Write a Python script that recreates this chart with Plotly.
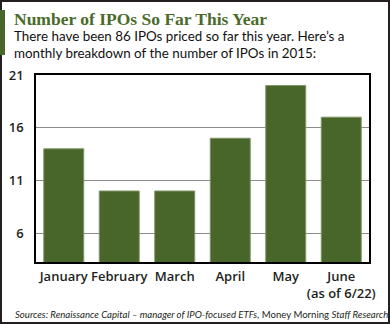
import plotly.graph_objects as go

months = ["January", "February", "March", "April", "May", "June"]
month_labels = ["January", "February", "March", "April", "May", "June<br>(as of 6/22)"]
ipos = [14, 10, 10, 15, 20, 17]
y_ticks = [6, 11, 16, 21]

W, H = 390, 324
L, R, T, B = 36, 21, 75, 62
PW, PH = W - L - R, H - T - B
GREEN = "#486629"

def px(x):
    return (x - L) / PW

def py(y):
    return (H - B - y) / PH

fig = go.Figure(go.Bar(
    x=months, y=ipos, marker=dict(color=GREEN, line=dict(color="#7d9463", width=1)),
    width=0.72,
))

fig.update_layout(
    width=W, height=H, margin=dict(l=L, r=R, t=T, b=B, autoexpand=False),
    paper_bgcolor="white", plot_bgcolor="white", showlegend=False,
    font=dict(family="Open Sans", color="#231f20"),
)
fig.update_xaxes(
    tickmode="array", tickvals=months, ticktext=month_labels, tickangle=0,
    tickfont=dict(family="Open Sans", size=13, weight=600, color="#231f20"),
    showline=True, linecolor="black", linewidth=1.5, mirror=True,
    showgrid=False, ticks="", ticklabelstandoff=2, automargin=False,
)
fig.update_yaxes(
    range=[3.27, 21], tickmode="array", tickvals=y_ticks,
    tickfont=dict(family="Open Sans", size=13, weight=600, color="#231f20"),
    showline=True, linecolor="black", linewidth=1.5, mirror=True,
    showgrid=True, gridcolor="#8c8c8c", gridwidth=1.2, zeroline=False,
    ticks="", ticklabelstandoff=8, automargin=False,
)

fig.add_annotation(xref="paper", yref="paper", x=px(12), y=py(19), xanchor="left", yanchor="middle",
                   text="<b>Number of IPOs So Far This Year</b>", showarrow=False,
                   font=dict(family="Liberation Serif", size=17.5, color="#4a6b2a"))
fig.add_annotation(xref="paper", yref="paper", x=px(12), y=py(36), xanchor="left", yanchor="middle",
                   text="There have been 86 IPOs priced so far this year. Here\u2019s a",
                   showarrow=False, font=dict(family="Lato", size=13.4, color="#111111"))
fig.add_annotation(xref="paper", yref="paper", x=px(12), y=py(53), xanchor="left", yanchor="middle",
                   text="monthly breakdown of the number of IPOs in 2015:",
                   showarrow=False, font=dict(family="Lato", size=13.4, color="#111111"))
fig.add_annotation(xref="paper", yref="paper", x=px(13), y=py(314), xanchor="left", yanchor="middle",
                   text="<i>Sources: Renaissance Capital \u2013 manager of IPO-focused ETFs,</i> Money Morning <i>Staff Research</i>",
                   showarrow=False, font=dict(family="Lato", size=9.6, color="#231f20"))

fig.add_shape(type="rect", xref="paper", yref="paper", x0=px(1), x1=px(389), y0=py(323), y1=py(1),
              line=dict(color="#231f20", width=2), fillcolor="rgba(0,0,0,0)", layer="below")
fig.add_shape(type="rect", xref="paper", yref="paper", x0=px(0), x1=px(5), y0=py(55), y1=py(10),
              line=dict(width=0), fillcolor=GREEN)

fig.write_html("out.html")
